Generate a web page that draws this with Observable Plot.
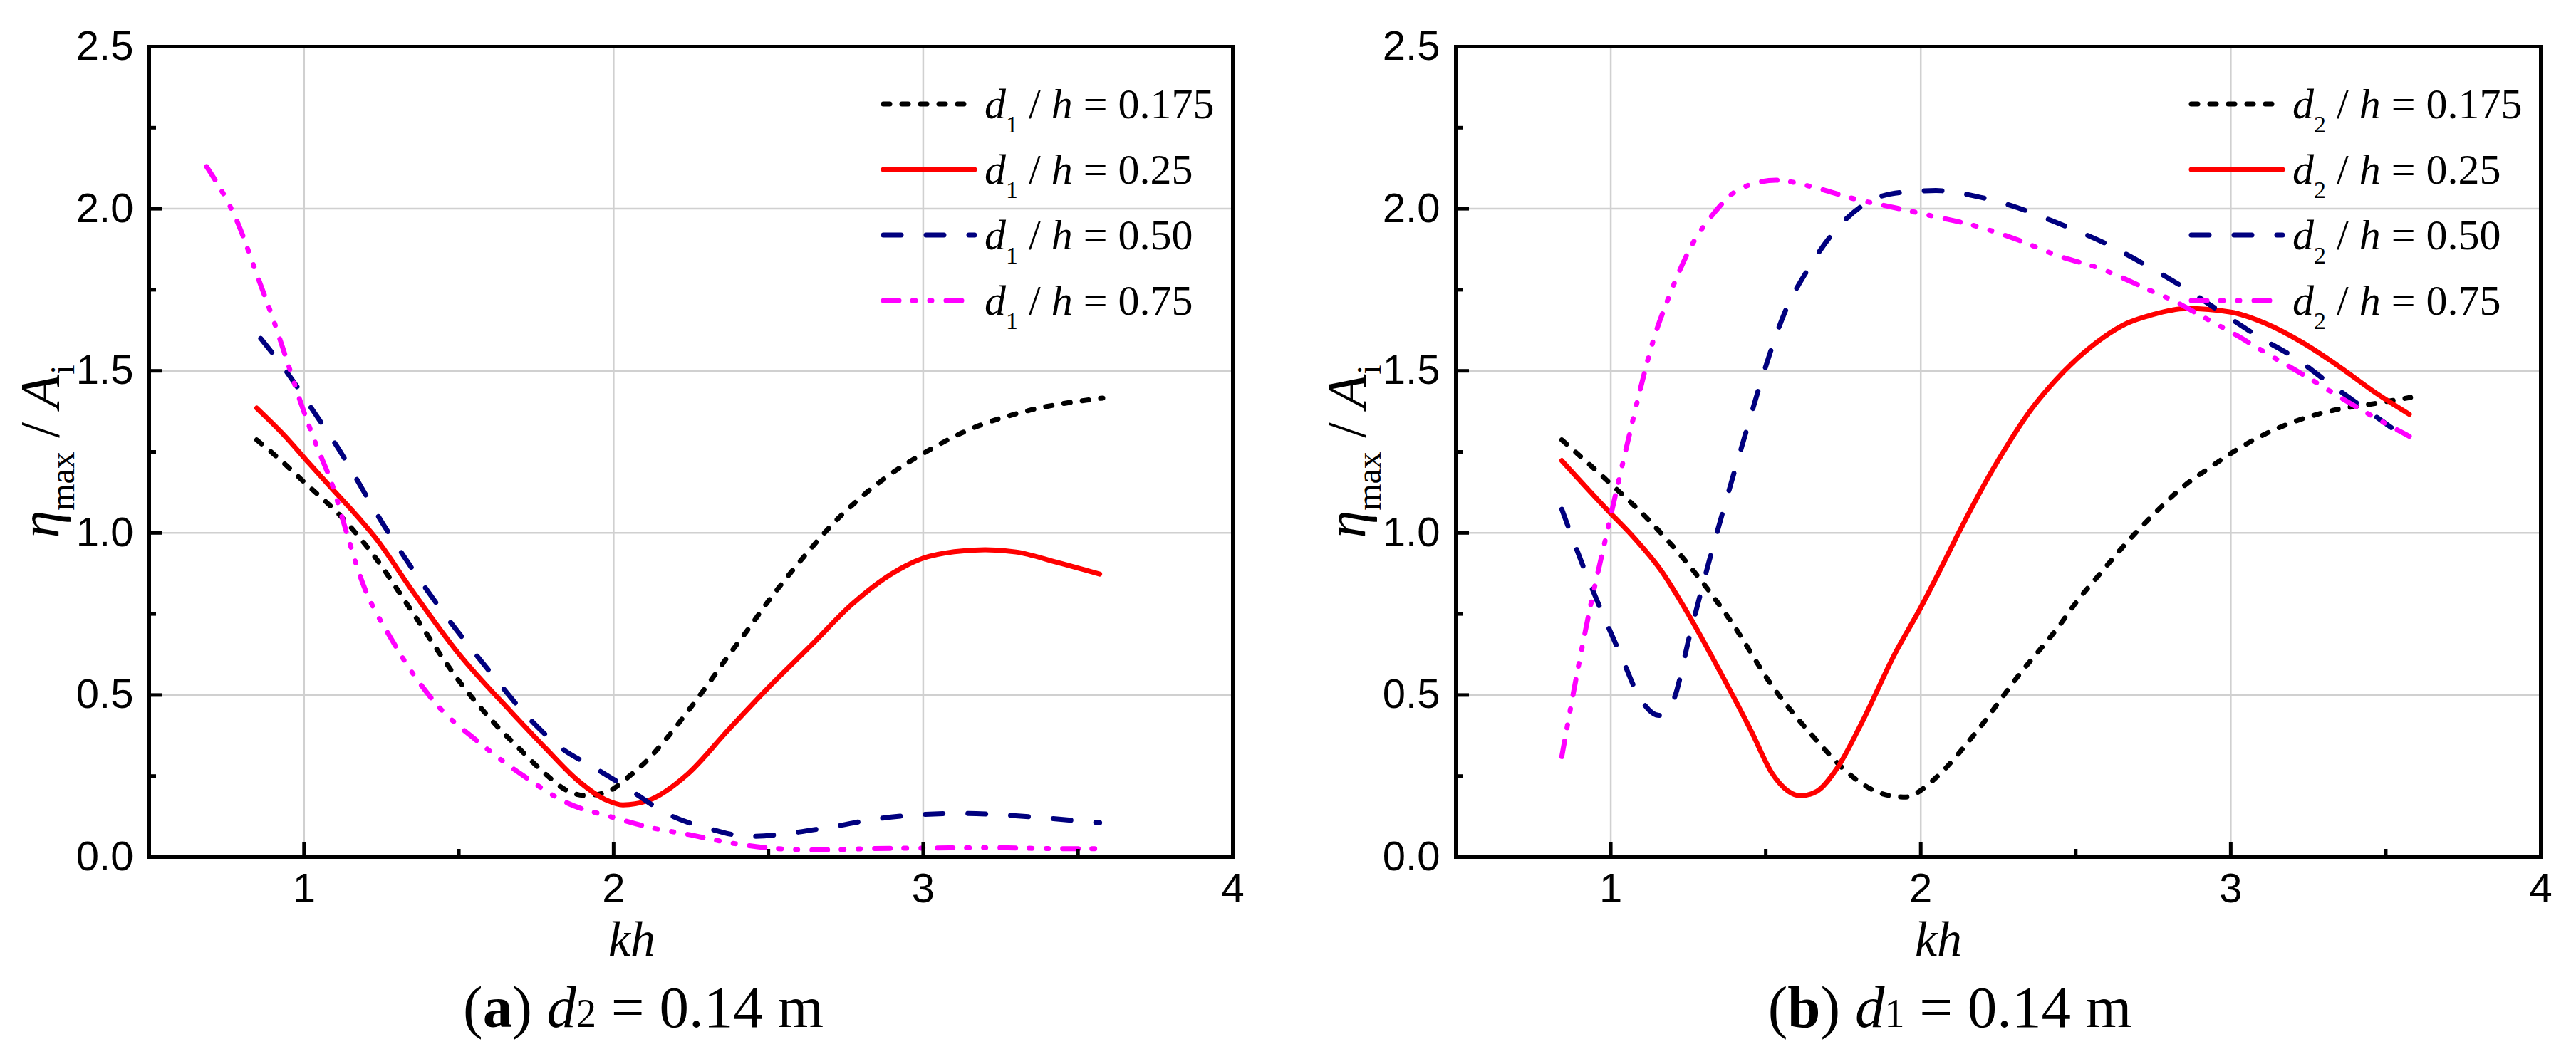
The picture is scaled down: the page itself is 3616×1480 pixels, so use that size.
<!DOCTYPE html>
<html><head><meta charset="utf-8">
<script src="https://cdn.jsdelivr.net/npm/d3@7"></script>
<script src="https://cdn.jsdelivr.net/npm/@observablehq/plot@0.6"></script>
<style>
body{margin:0;background:#fff;}
#wrap{display:flex;width:3616px;height:1480px;}
#wrap svg{display:block;}
</style>
</head><body><div id="wrap"></div>
<script>
// ---------- data: panel (a) d2 = 0.14 m ----------
const a175_x = [0.847, 0.92, 1.0, 1.13, 1.235, 1.34, 1.5, 1.61, 1.70, 1.78, 1.85, 1.91, 1.976, 2.055, 2.11, 2.17, 2.24, 2.31, 2.37, 2.44, 2.50, 2.57, 2.64, 2.70, 2.77, 2.83, 2.90, 3.0, 3.14, 3.33, 3.58];
const a175_y = [1.287, 1.228, 1.157, 1.04, 0.918, 0.77, 0.544, 0.418, 0.33, 0.256, 0.205, 0.19, 0.20, 0.253, 0.30, 0.365, 0.45, 0.54, 0.62, 0.71, 0.79, 0.875, 0.955, 1.02, 1.085, 1.135, 1.185, 1.245, 1.315, 1.375, 1.416];
const a25_x = [0.847, 0.94, 1.016, 1.093, 1.162, 1.235, 1.34, 1.5, 1.67, 1.78, 1.88, 1.976, 2.03, 2.11, 2.24, 2.37, 2.50, 2.64, 2.77, 2.90, 3.0, 3.10, 3.20, 3.30, 3.43, 3.57];
const a25_y = [1.385, 1.297, 1.215, 1.134, 1.062, 0.98, 0.835, 0.627, 0.447, 0.336, 0.24, 0.176, 0.161, 0.174, 0.257, 0.392, 0.523, 0.655, 0.78, 0.875, 0.922, 0.942, 0.948, 0.941, 0.91, 0.873];
const a50_x = [0.86, 0.946, 1.03, 1.107, 1.26, 1.42, 1.606, 1.725, 1.84, 1.93, 2.03, 2.17, 2.31, 2.44, 2.57, 2.72, 2.85, 2.99, 3.12, 3.27, 3.40, 3.57];
const a50_y = [1.60, 1.494, 1.376, 1.266, 1.02, 0.793, 0.565, 0.43, 0.33, 0.28, 0.222, 0.135, 0.087, 0.064, 0.074, 0.096, 0.118, 0.131, 0.135, 0.129, 0.12, 0.106];
const a75_x = [0.685, 0.786, 0.854, 0.90, 0.95, 0.99, 1.038, 1.093, 1.139, 1.18, 1.29, 1.42, 1.57, 1.71, 1.85, 2.0, 2.12, 2.24, 2.37, 2.53, 2.66, 2.83, 3.03, 3.23, 3.43, 3.57];
const a75_y = [2.13, 1.956, 1.78, 1.66, 1.516, 1.40, 1.275, 1.143, 0.996, 0.87, 0.66, 0.48, 0.35, 0.25, 0.167, 0.122, 0.091, 0.07, 0.045, 0.026, 0.022, 0.026, 0.028, 0.029, 0.026, 0.026];

// ---------- data: panel (b) d1 = 0.14 m ----------
const b175_x = [0.842, 0.99, 1.123, 1.255, 1.388, 1.52, 1.652, 1.784, 1.85, 1.903, 1.95, 1.983, 2.049, 2.18, 2.313, 2.446, 2.504, 2.581, 2.666, 2.75, 2.843, 2.93, 3.0, 3.09, 3.21, 3.33, 3.47, 3.58];
const b175_y = [1.287, 1.16, 1.039, 0.897, 0.727, 0.529, 0.373, 0.245, 0.205, 0.189, 0.185, 0.196, 0.245, 0.387, 0.557, 0.713, 0.789, 0.877, 0.972, 1.056, 1.14, 1.20, 1.245, 1.295, 1.345, 1.378, 1.40, 1.418];
const b25_x = [0.842, 1.0, 1.057, 1.163, 1.255, 1.361, 1.454, 1.52, 1.573, 1.612, 1.665, 1.73, 1.81, 1.917, 2.0, 2.05, 2.127, 2.204, 2.281, 2.358, 2.435, 2.512, 2.589, 2.666, 2.743, 2.858, 3.0, 3.11, 3.23, 3.35, 3.46, 3.576];
const b25_y = [1.223, 1.06, 1.004, 0.883, 0.741, 0.557, 0.387, 0.259, 0.203, 0.189, 0.203, 0.274, 0.415, 0.628, 0.77, 0.862, 1.009, 1.148, 1.273, 1.383, 1.471, 1.544, 1.603, 1.647, 1.672, 1.692, 1.681, 1.647, 1.588, 1.513, 1.437, 1.366];
const b50_x = [0.842, 0.911, 0.978, 1.03, 1.097, 1.156, 1.2, 1.255, 1.321, 1.388, 1.44, 1.493, 1.56, 1.64, 1.73, 1.824, 1.917, 2.049, 2.18, 2.313, 2.446, 2.60, 2.73, 2.85, 2.97, 3.09, 3.21, 3.32, 3.44, 3.576];
const b50_y = [1.073, 0.897, 0.741, 0.628, 0.486, 0.437, 0.479, 0.685, 0.926, 1.153, 1.323, 1.493, 1.677, 1.819, 1.939, 2.017, 2.048, 2.056, 2.038, 2.003, 1.954, 1.891, 1.824, 1.756, 1.68, 1.605, 1.538, 1.46, 1.378, 1.286];
const b75_x = [0.842, 0.898, 0.938, 0.978, 1.017, 1.057, 1.097, 1.136, 1.19, 1.255, 1.335, 1.414, 1.533, 1.652, 1.784, 1.917, 2.049, 2.18, 2.313, 2.446, 2.58, 2.74, 2.82, 2.90, 3.02, 3.13, 3.25, 3.35, 3.47, 3.576];
const b75_y = [0.31, 0.60, 0.79, 0.96, 1.125, 1.29, 1.45, 1.59, 1.734, 1.876, 1.989, 2.06, 2.088, 2.067, 2.031, 2.003, 1.975, 1.946, 1.904, 1.854, 1.815, 1.748, 1.714, 1.672, 1.609, 1.546, 1.479, 1.42, 1.353, 1.298];

// ---------- series / ticks ----------
const seriesLabels = ["0.175", "0.25", "0.50", "0.75"];
const seriesColors = ["#000000", "#ff0000", "#00007f", "#ff00ff"];
const seriesDash = ["9 17", null, "25 35", "22 19 4 20 3 20"];
const xTickLabels = [1, 2, 3, 4];
const xGrid = [1, 2, 3];
const xMinor = [1.5, 2.5, 3.5];
const yTickLabels = [0, 0.5, 1.0, 1.5, 2.0, 2.5];
const yGrid = [0.5, 1.0, 1.5, 2.0];
const yMinor = [0.25, 0.75, 1.25, 1.75, 2.25];

function rows(xs, ys) { return xs.map((x, i) => ({kh: x, eta: ys[i]})); }

const panels = [
  {series: [rows(a175_x, a175_y), rows(a25_x, a25_y), rows(a50_x, a50_y), rows(a75_x, a75_y)],
   ml: 209, mr: 78, dvar: "1", letter: "a", cvar: "2"},
  {series: [rows(b175_x, b175_y), rows(b25_x, b25_y), rows(b50_x, b50_y), rows(b75_x, b75_y)],
   ml: 235, mr: 50, dvar: "2", letter: "b", cvar: "1"}
];

const W = 1808, H = 1480, MT = 65, MB = 277;
const SERIF = "'Liberation Serif', 'Times New Roman', Times, serif";
const SANS = "'Liberation Sans Narrow', 'Arial Narrow', 'Liberation Sans', Arial, sans-serif";

for (const p of panels) {
  const fw = W - p.ml - p.mr, fh = H - MT - MB;
  const lineMarks = p.series.map((data, i) => Plot.line(data, {
    x: "kh", y: "eta", stroke: seriesColors[i], strokeWidth: 7,
    strokeDasharray: seriesDash[i] ?? undefined, strokeLinecap: "round", strokeLinejoin: "round",
    curve: "monotone-x"
  }));
  const svg = Plot.plot({
    width: W, height: H, marginLeft: p.ml, marginRight: p.mr, marginTop: MT, marginBottom: MB,
    x: {domain: [0.5, 4]}, y: {domain: [0, 2.5]},
    style: {fontFamily: SANS, fontSize: "58px", background: "#fff", color: "#000"},
    marks: [
      Plot.gridX(xGrid, {stroke: "#d0d0d0", strokeOpacity: 1, strokeWidth: 2.5}),
      Plot.gridY(yGrid, {stroke: "#d0d0d0", strokeOpacity: 1, strokeWidth: 2.5}),
      ...lineMarks,
      Plot.tickX(xGrid, {x: d => d, insetTop: fh - 20, stroke: "#000", strokeWidth: 5}),
      Plot.tickX(xMinor, {x: d => d, insetTop: fh - 11, stroke: "#000", strokeWidth: 5}),
      Plot.tickY(yGrid, {y: d => d, insetRight: fw - 19, stroke: "#000", strokeWidth: 5}),
      Plot.tickY(yMinor, {y: d => d, insetRight: fw - 10, stroke: "#000", strokeWidth: 5}),
      Plot.axisX(xTickLabels, {tickSize: 0, tickPadding: 22, tickFormat: d3.format("d"), label: null, fontSize: 58}),
      Plot.axisY(yTickLabels, {tickSize: 0, tickPadding: 22, tickFormat: d3.format(".1f"), label: null, fontSize: 58}),
      Plot.frame({stroke: "#000", strokeWidth: 5})
    ]
  });
  const s = d3.select(svg);
  const fr = W - p.mr;

  // y-axis label
  const yl = s.append("text")
    .attr("transform", `translate(${p.ml - 127},${MT + fh / 2}) rotate(-90)`)
    .attr("text-anchor", "middle").attr("font-family", SERIF).attr("font-size", 78).attr("fill", "#000");
  yl.append("tspan").attr("font-style", "italic").text("η");
  yl.append("tspan").attr("font-size", 48).attr("dy", 22).text("max");
  yl.append("tspan").attr("dy", -22).text(" / ");
  yl.append("tspan").attr("font-style", "italic").text("A");
  yl.append("tspan").attr("font-size", 48).attr("dy", 22).text("i");

  // x-axis label
  s.append("text").attr("x", p.ml + 678).attr("y", 1342).attr("text-anchor", "middle")
    .attr("font-family", SERIF).attr("font-style", "italic").attr("font-size", 70).attr("fill", "#000").text("kh");

  // legend
  const lg = s.append("g").attr("text-anchor", "start");
  seriesLabels.forEach((lab, i) => {
    const yLine = 146 + i * 92, yBase = 166 + i * 92;
    lg.append("line").attr("x1", fr - 490).attr("x2", fr - 362).attr("y1", yLine).attr("y2", yLine)
      .attr("stroke", seriesColors[i]).attr("stroke-width", 7).attr("stroke-linecap", "round")
      .attr("stroke-dasharray", seriesDash[i]);
    const t = lg.append("text").attr("x", fr - 348).attr("y", yBase).attr("text-anchor", "start")
      .attr("font-family", SERIF).attr("font-size", 60).attr("fill", "#000");
    t.append("tspan").attr("font-style", "italic").text("d");
    t.append("tspan").attr("font-size", 34).attr("dy", 20).text(p.dvar);
    t.append("tspan").attr("dy", -20).text(" / ");
    t.append("tspan").attr("font-style", "italic").text("h");
    t.append("tspan").text(" = " + lab);
  });

  // caption
  const c = s.append("text").attr("x", p.ml + 694).attr("y", 1442).attr("text-anchor", "middle")
    .attr("font-family", SERIF).attr("font-size", 83).attr("fill", "#000");
  c.append("tspan").text("(");
  c.append("tspan").attr("font-weight", "bold").text(p.letter);
  c.append("tspan").text(") ");
  c.append("tspan").attr("font-style", "italic").text("d");
  c.append("tspan").attr("font-size", 56).text(p.cvar);
  c.append("tspan").text(" = 0.14 m");

  document.getElementById("wrap").appendChild(svg);
}
</script>
</body></html>
